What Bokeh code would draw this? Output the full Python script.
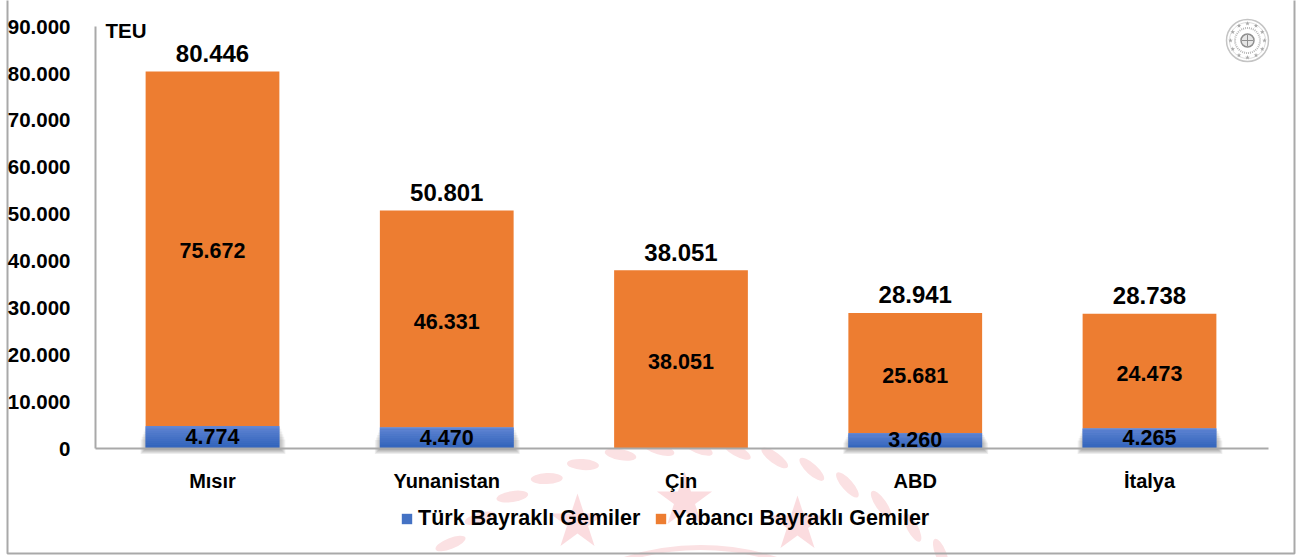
import math
from bokeh.plotting import figure
from bokeh.models import Range1d, LinearAxis, FixedTicker, Legend, LegendItem
from bokeh.core.properties import value
from bokeh.embed import file_html
from bokeh.resources import INLINE

categories = ["Mısır", "Yunanistan", "Çin", "ABD", "İtalya"]
turk = [4774, 4470, 0, 3260, 4265]
yabanci = [75672, 46331, 38051, 25681, 24473]
totals = [80446, 50801, 38051, 28941, 28738]
turk_labels = ["4.774", "4.470", "", "3.260", "4.265"]
yabanci_labels = ["75.672", "46.331", "38.051", "25.681", "24.473"]
total_labels = ["80.446", "50.801", "38.051", "28.941", "28.738"]
y_ticks = [0, 10000, 20000, 30000, 40000, 50000, 60000, 70000, 80000, 90000]
y_tick_labels = ["0", "10.000", "20.000", "30.000", "40.000", "50.000", "60.000", "70.000", "80.000", "90.000"]
series_names = ["Türk Bayraklı Gemiler", "Yabancı Bayraklı Gemiler"]
unit_label = "TEU"

FONT = value("Liberation Sans")
W, H = 1304, 557
CAT_PX = 234.25
Y_PX = 0.004686


def X(sx):
    return (sx - 212) / CAT_PX


def Y(sy):
    return (448 - sy) / Y_PX


p = figure(width=W, height=H, output_backend="svg", toolbar_location=None,
           x_range=Range1d(X(0), X(W)), y_range=Range1d(Y(H), Y(0)),
           x_axis_type=None, y_axis_type=None, min_border=0,
           min_border_left=0, min_border_right=0, min_border_top=0, min_border_bottom=0,
           background_fill_color="white", border_fill_color="white", outline_line_color=None)
p.styles = {"position": "absolute", "left": "0px", "top": "0px"}
p.grid.visible = False

# watermark (faint seal behind the chart)
PINK = "#fbe1e3"
cx, cy, r = 690, 795, 348
angles = [-50 + 6.4 * i for i in range(16)]
lx = [X(cx + r * math.sin(math.radians(a))) for a in angles]
ly = [Y(cy - r * math.cos(math.radians(a))) for a in angles]
la = [math.radians(-a - 22) for a in angles]
p.ellipse(lx, ly, width=32, height=11, angle=la, width_units="screen", height_units="screen",
          fill_color=PINK, line_color=None)
p.scatter([X(577), X(684), X(797)], [Y(522), Y(500), Y(524)], marker="star", size=58,
          fill_color="#fbdcdf", line_color=None)
p.arc([X(700)], [Y(795)], radius=248, radius_units="screen",
      start_angle=math.radians(72), end_angle=math.radians(108),
      line_color=PINK, line_width=5)

# seal at the top right
sc = "#b9b9b9"
p.scatter([X(1247)], [Y(40)], marker="circle", size=42, fill_color="white", line_color="#c4c4c4", line_width=1.5)
p.scatter([X(1247)], [Y(40)], marker="circle", size=36, fill_color=None, line_color="#dddddd", line_width=1)
p.scatter([X(1247)], [Y(40)], marker="circle", size=25, fill_color=None, line_color=sc, line_width=2, line_dash="1 1")
p.scatter([X(1247)], [Y(40)], marker="circle", size=13, fill_color="#e6e6e6", line_color="#8f8f8f", line_width=1.5)
p.scatter([X(1247)], [Y(40)], marker="cross", size=11, line_color="#8f8f8f", line_width=1)
sa = [i * 30 for i in range(12)]
p.scatter([X(1247 + 17 * math.sin(math.radians(a))) for a in sa],
          [Y(40 - 17 * math.cos(math.radians(a))) for a in sa],
          marker="star", size=5, fill_color="#a8a8a8", line_color=None)

# outer frame
p.quad(left=[X(7)], right=[X(1294)], bottom=[Y(553)], top=[Y(-10)], fill_color=None,
       line_color="#a9a9a9", line_width=2)

xs = list(range(len(categories)))
BAR = 0.571

# bars
bar_y = p.vbar(x=xs, width=BAR, bottom=turk, top=totals, fill_color="#ed7d31", line_color=None)

# soft shadow of the blue bars
kept = [i for i in xs if turk[i] > 0]
for k in range(1, 6):
    p.vbar(x=[xs[i] + 0.5 / CAT_PX for i in kept], width=BAR + (2 * k + 1) / CAT_PX,
           bottom=[-(k + 0.5) / Y_PX for i in kept], top=[0 for i in kept],
           fill_color="#000000", fill_alpha=0.07, line_color=None)
    p.vbar(x=[xs[i] + 0.5 / CAT_PX for i in kept], width=BAR + (2 * k + 1) / CAT_PX,
           bottom=[0 for i in kept], top=[turk[i] * (1 - 0.12 * k) for i in kept],
           fill_color="#000000", fill_alpha=0.05, line_color=None)

bar_t = p.vbar(x=xs, width=BAR, bottom=0, top=turk, fill_color="#4472c4", line_color=None)

# vertical shading of the blue bars
STEPS = 12
for s in range(STEPS):
    f = s / (STEPS - 1)
    col = "#%02x%02x%02x" % (int(0x2f + (0x60 - 0x2f) * f), int(0x62 + (0x85 - 0x62) * f), int(0xba + (0xd3 - 0xba) * f))
    p.vbar(x=xs, width=BAR, bottom=[t * s / STEPS for t in turk], top=[t * (s + 1) / STEPS for t in turk],
           fill_color=col, line_color=None)

# data labels
p.text(xs, [t / 2 for t in turk], text=turk_labels, text_font=FONT, text_font_style="bold",
       text_font_size="21.5px", text_align="center", text_baseline="middle", text_color="black", y_offset=-1)
mids = [t + v / 2 for t, v in zip(turk, yabanci)]
p.text(xs, mids, text=yabanci_labels, text_font=FONT, text_font_style="bold",
       text_font_size="21.5px", text_align="center", text_baseline="middle", text_color="black", y_offset=2)
p.text(xs, totals, text=total_labels, text_font=FONT, text_font_style="bold",
       text_font_size="24px", text_align="center", text_baseline="middle", text_color="black", y_offset=-18)
p.text([X(105)], [Y(30)], text=[unit_label], text_font=FONT, text_font_style="bold",
       text_font_size="20.5px", text_align="left", text_baseline="middle", text_color="black")

# axes
xa = LinearAxis(ticker=FixedTicker(ticks=xs), major_label_overrides=dict(zip(xs, categories)),
                fixed_location=0, bounds=(X(95), X(1268)))
xa.axis_line_color = "#a9a9a9"
xa.axis_line_width = 2
xa.major_tick_line_color = None
xa.minor_tick_line_color = None
xa.major_label_text_font = "Liberation Sans"
xa.major_label_text_font_style = "bold"
xa.major_label_text_font_size = "20px"
xa.major_label_text_color = "black"
xa.major_label_standoff = 15
p.add_layout(xa, "below")

ya = LinearAxis(ticker=FixedTicker(ticks=y_ticks), major_label_overrides=dict(zip(y_ticks, y_tick_labels)),
                fixed_location=X(95), bounds=(0, 90000))
ya.axis_line_color = "#a9a9a9"
ya.axis_line_width = 2
ya.major_tick_line_color = None
ya.minor_tick_line_color = None
ya.major_label_text_font = "Liberation Sans"
ya.major_label_text_font_style = "bold"
ya.major_label_text_font_size = "20.5px"
ya.major_label_text_color = "black"
ya.major_label_standoff = 19
p.add_layout(ya, "left")

# legend
legend = Legend(items=[LegendItem(label=series_names[0], renderers=[bar_t]),
                       LegendItem(label=series_names[1], renderers=[bar_y])],
                orientation="horizontal", location=(400, 26), background_fill_alpha=0,
                border_line_color=None, padding=0, margin=0, spacing=14, label_standoff=5,
                glyph_width=13, glyph_height=13, label_text_font="Liberation Sans",
                label_text_font_style="bold", label_text_font_size="21.5px", label_text_color="black")
p.add_layout(legend, "center")

open("out.html", "w").write(file_html(p, INLINE))
